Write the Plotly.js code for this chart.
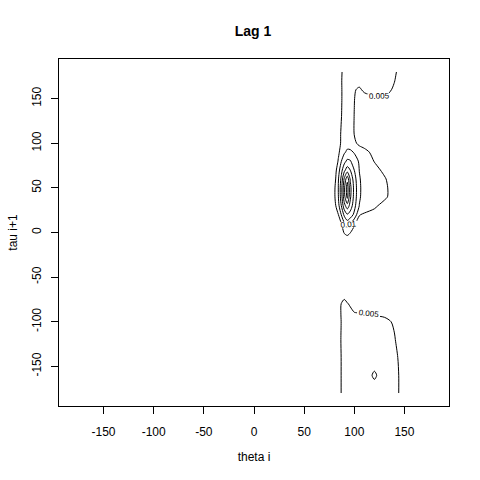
<!DOCTYPE html>
<html>
<head>
<meta charset="utf-8">
<script src="https://cdn.plot.ly/plotly-3.0.1.min.js"></script>
<style>html,body{margin:0;padding:0;background:#fff;}#chart{width:480px;height:480px;}</style>
</head>
<body>
<div id="chart"></div>
<script>
// Grid of theta i (x) and tau i+1 (y) values
const thetaNodes = [70, 80, 84, 87, 90, 93, 96, 100, 105, 110, 120, 130, 140, 150, 160];
const tauNodes = [-180, -160, -140, -120, -100, -90, -80, -70, -60, -20, -10, 0, 10, 20, 30, 40, 50, 60, 70, 80, 90, 100, 110, 130, 150, 160, 170, 180];
// Density estimates in units of 0.001 (one row per tau node)
const densityMilli = [
  [0, 1, 3, 5.1, 7, 7.5, 7.5, 7.5, 7.5, 7.5, 8, 7.5, 6.5, 3, 1],
  [0, 1, 3, 5.1, 7, 7.5, 7.5, 7.5, 7.5, 8, 10.6, 8, 6.5, 3, 1],
  [0, 1, 3, 5.1, 7, 7.5, 7.5, 7.5, 7.5, 7.5, 8, 7.5, 6, 3, 1],
  [0, 1, 3, 5.3, 7, 7.5, 7.5, 7.5, 7.5, 7.5, 7.5, 7, 5.3, 2, 0.5],
  [0, 1, 3, 5.1, 6.5, 6.5, 6, 5.6, 5.6, 5.8, 5.8, 6, 4.5, 1, 0],
  [0, 1, 3, 5.3, 6.5, 6.5, 6, 5.1, 4.9, 5.2, 4.66, 4, 3, 1, 0],
  [0, 1, 3, 5.1, 6, 5.3, 4.5, 3.5, 3, 3, 2.5, 2, 1.5, 0.5, 0],
  [0, 0.5, 2, 3, 4, 3, 2.5, 2, 1.5, 1.5, 1, 1, 0.5, 0, 0],
  [0, 0.3, 1.5, 2, 2.5, 2, 1.5, 1.2, 1, 1, 0.8, 0.6, 0.3, 0, 0],
  [0, 0, 0.3, 0.8, 1.2, 1.5, 1.2, 1, 0.5, 0.3, 0.2, 0.1, 0, 0, 0],
  [0, 0.2, 0.8, 1.5, 2.5, 3, 2.5, 2, 1, 0.7, 0.5, 0.3, 0.1, 0, 0],
  [0, 0.3, 1.5, 3.5, 5.3, 6, 5.1, 3.5, 1.5, 1, 0.7, 0.5, 0.2, 0, 0],
  [0, 0.5, 2.5, 4.9, 9.4, 12.5, 10.5, 5.6, 3, 2.2, 1.5, 1, 0.5, 0, 0],
  [0, 1.5, 4.8, 10.1, 16.2, 19.5, 17.7, 13.9, 5.3, 4.2, 3.5, 2.5, 1, 0.3, 0],
  [0, 3, 8.2, 14.9, 23.2, 28, 23.2, 16.6, 9.9, 8.6, 5.8, 3.5, 1.5, 0.5, 0],
  [0, 4, 9.6, 17.3, 28.2, 36.5, 25.9, 18.1, 10.5, 8.4, 7.3, 5.9, 3, 1, 0],
  [0, 3.9, 9.9, 17.7, 29, 37.5, 26.5, 18.3, 10.6, 8.5, 7.5, 6, 3, 1, 0],
  [0, 2.6, 9.4, 16.1, 25.8, 33.5, 24.4, 17.2, 10.4, 8.3, 7, 5.5, 2.5, 0.8, 0],
  [0, 2, 7.7, 13.2, 18.6, 22.5, 19.9, 14.9, 9.9, 8.7, 6.5, 4, 2, 0.5, 0],
  [0, 1, 5.3, 9.8, 13.4, 16, 15.4, 12.3, 9.4, 8, 4.8, 2.5, 1, 0.3, 0],
  [0, 0.5, 4.2, 6.5, 9.3, 11, 11, 9.6, 8, 6.5, 3.5, 1.5, 0.5, 0, 0],
  [0, 0.3, 3, 5.6, 7.5, 8, 7.5, 6, 3.8, 3, 2, 1, 0.3, 0, 0],
  [0, 0.3, 3, 5.5, 7, 7.3, 7, 4.9, 3, 2.5, 2, 1.5, 0.8, 0.3, 0],
  [0, 0.2, 2.5, 4.8, 7, 7.3, 7, 4.9, 3.5, 3, 3, 3, 2, 0.8, 0.2],
  [0, 0.2, 2.5, 4.5, 7, 7.3, 7, 5.1, 3.5, 4, 4.6, 4.8, 4.2, 2, 0.5],
  [0, 0.2, 2.5, 4.5, 7, 7.3, 7, 5.2, 4.6, 5.5, 6, 6.2, 4.5, 2, 0.5],
  [0, 0.2, 2.5, 4.6, 7, 7.3, 7, 6.5, 6, 6.3, 6.5, 6.5, 5.1, 2.5, 0.5],
  [0, 0.2, 2.5, 4.3, 7, 7.3, 7, 7, 7, 7, 7, 7, 5.6, 2.6, 0.5]
];
const tickVals = [-150, -100, -50, 0, 50, 100, 150];
const tickText = ['-150', '-100', '-50', '0', '50', '100', '150'];

const density = densityMilli.map(row => row.map(v => v / 1000));
const FONT = 'Liberation Sans, Arial, sans-serif';

// Labelled outer levels
const traceOuter = {
  type: 'contour',
  x: thetaNodes, y: tauNodes, z: density,
  autocontour: false,
  contours: {
    start: 0.005, end: 0.01, size: 0.005,
    coloring: 'none',
    showlabels: true,
    labelfont: {family: FONT, size: 8, color: '#000'}
  },
  line: {color: '#000', width: 1, smoothing: 0.8},
  showscale: false,
  hoverinfo: 'skip'
};
// Inner levels
const traceInner = {
  type: 'contour',
  x: thetaNodes, y: tauNodes, z: density,
  autocontour: false,
  contours: {
    start: 0.015, end: 0.035, size: 0.005,
    coloring: 'none',
    showlabels: false
  },
  line: {color: '#000', width: 1, smoothing: 0.8},
  showscale: false,
  hoverinfo: 'skip'
};

const axisCommon = {
  showgrid: false, zeroline: false,
  showline: true, mirror: true, linecolor: '#000', linewidth: 1,
  ticks: 'outside', ticklen: 7, tickcolor: '#000', tickwidth: 1,
  tickvals: tickVals, ticktext: tickText,
  tickfont: {family: FONT, size: 12, color: '#000'}
};

const layout = {
  width: 480, height: 480,
  margin: {l: 59, r: 31, t: 59, b: 74},
  paper_bgcolor: '#fff', plot_bgcolor: '#fff',
  showlegend: false,
  title: {text: '<b>Lag 1</b>', x: 0.527, xanchor: 'center', y: 0.935, yanchor: 'middle',
          font: {family: FONT, size: 14, color: '#000'}},
  xaxis: Object.assign({}, axisCommon, {
    range: [-194.4, 194.4],
    ticklabelstandoff: 8,
    title: {text: 'theta i', standoff: 14, font: {family: FONT, size: 12, color: '#000'}}
  }),
  yaxis: Object.assign({}, axisCommon, {
    range: [-194.4, 194.4],
    tickangle: -90,
    ticklabelstandoff: 5,
    title: {text: 'tau i+1', standoff: 10, font: {family: FONT, size: 12, color: '#000'}}
  })
};

Plotly.newPlot('chart', [traceOuter, traceInner], layout, {staticPlot: true, displayModeBar: false});
</script>
</body>
</html>
